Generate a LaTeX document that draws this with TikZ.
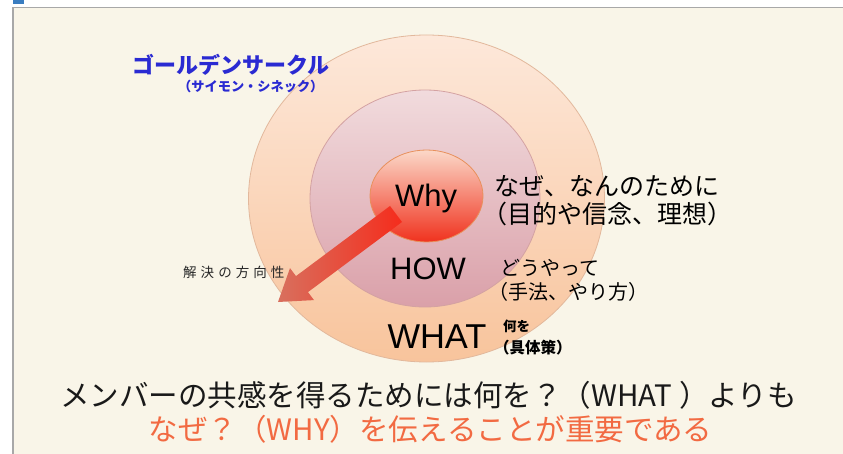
\documentclass[tikz,border=0pt]{standalone}
\usepackage{fontspec}
\usetikzlibrary{shapes.geometric}
\newfontfamily\jp{Noto Sans CJK JP}
\newfontfamily\jpsp[LetterSpace=30]{Noto Sans CJK JP}
\newfontfamily\lat{Liberation Sans}
\definecolor{panelbg}{HTML}{F9F5E8}
\definecolor{panelline}{HTML}{A8A8A8}
\definecolor{tabblue}{HTML}{3A7DC0}
\definecolor{outertop}{HTML}{FDE8DA}
\definecolor{outerbot}{HTML}{F8C49C}
\definecolor{outerline}{HTML}{E2B89C}
\definecolor{midtop}{HTML}{F1DBDD}
\definecolor{midbot}{HTML}{DAA0A9}
\definecolor{midline}{HTML}{D4A2A2}
\definecolor{whytop}{HTML}{FBD8C8}
\definecolor{whymid}{HTML}{F8927A}
\definecolor{whybot}{HTML}{F0321E}
\definecolor{whyline}{HTML}{E8905C}
\definecolor{arrowstart}{HTML}{F52C1C}
\definecolor{arrowend}{HTML}{D8705E}
\definecolor{titleblue}{HTML}{2A2AD2}
\definecolor{accent}{HTML}{F26A42}
\begin{document}
\begin{tikzpicture}[x=1pt,y=-1pt,
  ring/.style={ellipse, inner sep=0pt, line width=0.8pt},
  bigword/.style={inner sep=0pt, font=\lat\fontsize{31}{33}\selectfont, text=black},
  jptext/.style={inner sep=0pt, anchor=west, text=black}]
\useasboundingbox (0,0) rectangle (843,454);
\fill[white] (0,0) rectangle (843,454);
\fill[panelbg] (13,7.5) rectangle (843,454);
\draw[panelline, line width=1.5pt] (13,454) -- (13,7.5) -- (843,7.5);
\fill[tabblue] (13,0) rectangle (24,4);

% circles
\node[ring, draw=outerline, top color=outertop, bottom color=outerbot,
      minimum width=356pt, minimum height=327pt] (outer) at (426.5,198.5) {};
\node[ring, draw=midline, top color=midtop, bottom color=midbot,
      minimum width=230pt, minimum height=217pt] (middle) at (425,198.5) {};
\node[ring, draw=whyline, top color=whytop, middle color=whymid, bottom color=whybot,
      minimum width=113pt, minimum height=92pt] (why) at (426.5,196) {};

% arrow
\shade[left color=arrowend, right color=arrowstart]
  (402.0,222.0) -- (308.0,292.1) -- (314.0,300.1) -- (278,302)
  -- (290.0,268.1) -- (296.0,276.1) -- (390.0,206.0) -- cycle;

% words
\node[bigword] (whyw) at (426,198) {Why};
\node[bigword] (howw) at (428,269) {HOW};
\node[bigword, font=\lat\fontsize{34.5}{36}\selectfont] (whatw) at (437,337) {WHAT};

% title
\node[jptext, text=titleblue, font=\jp\bfseries\fontsize{22}{24}\selectfont] (title) at (132,65) {ゴールデンサークル};
\node[jptext, text=titleblue, font=\jp\bfseries\fontsize{13.2}{15}\selectfont] (sub) at (178,86) {（サイモン・シネック）};

% side texts
\node[jptext, font=\jp\fontsize{25}{27}\selectfont] (why1) at (494,186) {なぜ、なんのために};
\node[jptext, font=\jp\fontsize{25}{27}\selectfont] (why2) at (482,214) {（目的や信念、理想）};
\node[jptext, font=\jp\fontsize{20}{22}\selectfont] (how1) at (500,268) {どうやって};
\node[jptext, font=\jp\fontsize{20}{22}\selectfont] (how2) at (488,292) {（手法、やり方）};
\node[jptext, font=\jp\bfseries\fontsize{13.5}{15}\selectfont] (what1) at (503,326) {何を};
\node[jptext, font=\jp\bfseries\fontsize{15.5}{17}\selectfont] (what2) at (494,348) {（具体策）};
\node[jptext, font=\jpsp\fontsize{13.5}{15}\selectfont, text=black!85] (dir) at (183,272) {解決の方向性};

% bottom message
\node[inner sep=0pt, font=\jp\fontsize{29.5}{32}\selectfont, text=black!90] (msg1) at (428.5,395) {メンバーの共感を得るためには何を？（WHAT ）よりも};
\node[inner sep=0pt, font=\jp\fontsize{29.5}{32}\selectfont, text=accent] (msg2) at (430.5,429) {なぜ？（WHY）を伝えることが重要である};
\end{tikzpicture}
\end{document}
